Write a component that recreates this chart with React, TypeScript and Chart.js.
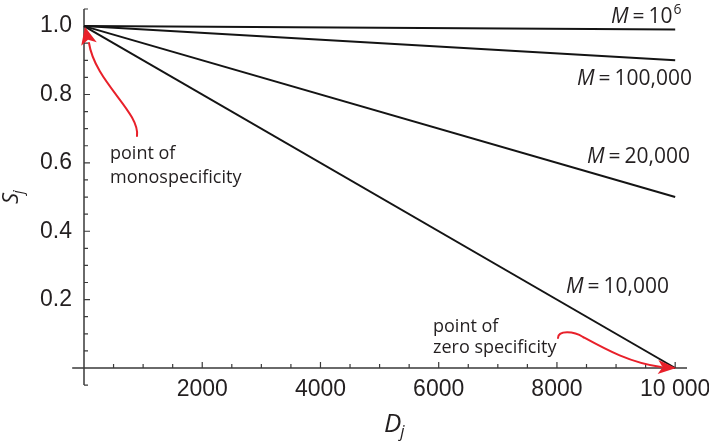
import React, { useEffect, useRef } from 'react';
import Chart from 'chart.js/auto';

// Specificity S_j against D_j for four values of M
const dValues = [0, 10000];
const sM1e6 = [1, 0.99];
const sM100k = [1, 0.9];
const sM20k = [1, 0.5];
const sM10k = [1, 0];

const curveLabels = ['10', '100,000', '20,000', '10,000'];

const xTickValues = [2000, 4000, 6000, 8000, 10000];
const xTickLabels = ['2000', '4000', '6000', '8000', '10 000'];
const yTickValues = [0.2, 0.4, 0.6, 0.8, 1.0];
const yTickLabels = ['0.2', '0.4', '0.6', '0.8', '1.0'];

const X_MIN = -200;
const X_MAX = 10200;
const Y_MIN = -0.05;
const Y_MAX = 1.05;

const AXIS_COLOR = '#3a3a3a';
const TEXT_COLOR = '#231f20';
const ARROW_RED = '#e8202a';
const ANNOT_FONT = '"Open Sans", "DejaVu Sans", sans-serif';
const TICK_FONT = '"Liberation Sans", Arial, sans-serif';

const toPoints = (ys: number[]) => dValues.map((d, i) => ({ x: d, y: ys[i] }));

function drawArrowHead(ctx: CanvasRenderingContext2D, bx: number, by: number, tx: number, ty: number, half: number) {
  const dx = tx - bx;
  const dy = ty - by;
  const len = Math.hypot(dx, dy);
  const ux = dx / len;
  const uy = dy / len;
  const px = -uy;
  const py = ux;
  ctx.beginPath();
  ctx.moveTo(tx, ty);
  ctx.lineTo(bx + px * half, by + py * half);
  ctx.lineTo(bx + ux * len * 0.25, by + uy * len * 0.25);
  ctx.lineTo(bx - px * half, by - py * half);
  ctx.closePath();
  ctx.fill();
}

const axesPlugin = {
  id: 'crossedAxes',
  beforeDatasetsDraw(chart: any) {
    const { ctx, scales } = chart;
    const xs = scales.x;
    const ys = scales.y;
    const x0 = xs.getPixelForValue(0);
    const y0 = ys.getPixelForValue(0);
    ctx.save();
    ctx.strokeStyle = AXIS_COLOR;
    ctx.lineWidth = 1.5;
    ctx.beginPath();
    ctx.moveTo(xs.getPixelForValue(X_MIN), y0);
    ctx.lineTo(xs.getPixelForValue(X_MAX), y0);
    ctx.moveTo(x0, ys.getPixelForValue(Y_MIN));
    ctx.lineTo(x0, ys.getPixelForValue(Y_MAX));
    ctx.stroke();

    ctx.lineWidth = 1.2;
    ctx.beginPath();
    // x ticks every 500, longer on the labelled ones
    for (let k = 1; k <= 20; k++) {
      const v = k * 500;
      const px = xs.getPixelForValue(v);
      const len = k % 4 === 0 ? 6 : 4;
      ctx.moveTo(px, y0);
      ctx.lineTo(px, y0 - len);
    }
    // y ticks every 0.05
    for (let k = -1; k <= 21; k++) {
      if (k === 0) continue;
      const py = ys.getPixelForValue(k * 0.05);
      const len = k % 4 === 0 ? 6 : 4;
      ctx.moveTo(x0, py);
      ctx.lineTo(x0 + len, py);
    }
    ctx.stroke();
    ctx.restore();
  },
};

const annotationPlugin = {
  id: 'annotations',
  afterDatasetsDraw(chart: any) {
    const { ctx, scales } = chart;
    const xs = scales.x;
    const ys = scales.y;
    ctx.save();
    ctx.fillStyle = TEXT_COLOR;
    ctx.textBaseline = 'alphabetic';
    ctx.textAlign = 'left';

    const drawM = (x: number, y: number, rest: string, sup?: string) => {
      ctx.font = `italic 21px ${ANNOT_FONT}`;
      ctx.fillText('M', x, y);
      let cx = x + ctx.measureText('M').width + 4;
      ctx.font = `21px ${ANNOT_FONT}`;
      ctx.fillText('=', cx, y);
      cx += ctx.measureText('=').width + 4;
      ctx.fillText(rest, cx, y);
      cx += ctx.measureText(rest).width + 1;
      if (sup) {
        ctx.font = `14px ${ANNOT_FONT}`;
        ctx.fillText(sup, cx, y - 9);
      }
    };

    drawM(611, 23, curveLabels[0], '6');
    drawM(577, 85, curveLabels[1]);
    drawM(587, 163, curveLabels[2]);
    drawM(566, 293, curveLabels[3]);

    ctx.font = `18px ${ANNOT_FONT}`;
    ctx.fillText('point of', 110, 159);
    ctx.fillText('monospecificity', 110, 183);
    ctx.fillText('point of', 433, 332);
    ctx.fillText('zero specificity', 433, 353);

    // axis titles
    ctx.font = `italic 22px ${ANNOT_FONT}`;
    ctx.save();
    ctx.translate(18, 204);
    ctx.rotate(-Math.PI / 2);
    ctx.fillText('S', 0, 0);
    const sw = ctx.measureText('S').width;
    ctx.font = `italic 15px ${ANNOT_FONT}`;
    ctx.fillText('j', sw - 1, 5);
    ctx.restore();

    ctx.font = `italic 26px ${ANNOT_FONT}`;
    ctx.fillText('D', 384, 432);
    const dw = ctx.measureText('D').width;
    ctx.font = `italic 17px ${ANNOT_FONT}`;
    ctx.fillText('j', 384 + dw - 1, 437);

    // red arrows to the two special points
    const tip1x = xs.getPixelForValue(0) + 1;
    const tip1y = ys.getPixelForValue(1) + 1;
    const tip2x = xs.getPixelForValue(10000) + 1;
    const tip2y = ys.getPixelForValue(0);

    ctx.strokeStyle = ARROW_RED;
    ctx.fillStyle = ARROW_RED;
    ctx.lineWidth = 2;
    ctx.lineCap = 'round';

    ctx.beginPath();
    ctx.moveTo(137, 136);
    ctx.bezierCurveTo(140, 112, 95, 82, 89, 43);
    ctx.stroke();
    drawArrowHead(ctx, 89, 44, tip1x, tip1y, 8);

    ctx.beginPath();
    ctx.moveTo(558, 338);
    ctx.bezierCurveTo(558, 330, 574, 331, 583, 337);
    ctx.bezierCurveTo(605, 349, 630, 363, 661, 367);
    ctx.stroke();
    drawArrowHead(ctx, 658, 367, tip2x, tip2y, 7);

    ctx.restore();
  },
};

export default function App() {
  const canvasRef = useRef<HTMLCanvasElement | null>(null);

  useEffect(() => {
    const canvas = canvasRef.current;
    if (!canvas) return;
    const lineStyle = {
      borderColor: '#141414',
      borderWidth: 2,
      pointRadius: 0,
      fill: false,
      tension: 0,
      clip: false as any,
    };
    const chart = new Chart(canvas, {
      type: 'line',
      data: {
        datasets: [
          { label: 'M = 10^6', data: toPoints(sM1e6), ...lineStyle },
          { label: 'M = 100,000', data: toPoints(sM100k), ...lineStyle },
          { label: 'M = 20,000', data: toPoints(sM20k), ...lineStyle },
          { label: 'M = 10,000', data: toPoints(sM10k), ...lineStyle },
        ],
      },
      options: {
        responsive: false,
        animation: false,
        events: [],
        layout: { padding: { left: 8, top: 9, right: 22, bottom: 0 } },
        plugins: {
          legend: { display: false },
          tooltip: { enabled: false },
        },
        scales: {
          x: {
            type: 'linear',
            position: 'bottom',
            min: 0,
            max: X_MAX,
            grid: { display: false, drawTicks: false },
            border: { display: false },
            afterBuildTicks: (s: any) => {
              s.ticks = xTickValues.map((v) => ({ value: v }));
            },
            afterFit: (s: any) => {
              s.height = 75;
              s.paddingLeft = 0;
              s.paddingRight = 0;
            },
            ticks: {
              autoSkip: false,
              maxRotation: 0,
              padding: 8,
              color: TEXT_COLOR,
              font: { family: TICK_FONT, size: 23 },
              callback: (v: any) => xTickLabels[xTickValues.indexOf(Number(v))] ?? '',
            },
          },
          y: {
            type: 'linear',
            position: 'left',
            min: 0,
            max: Y_MAX,
            grid: { display: false, drawTicks: false },
            border: { display: false },
            afterBuildTicks: (s: any) => {
              s.ticks = yTickValues.map((v) => ({ value: v }));
            },
            afterFit: (s: any) => {
              s.width = 76;
              s.paddingTop = 0;
              s.paddingBottom = 0;
            },
            ticks: {
              autoSkip: false,
              padding: 12,
              color: TEXT_COLOR,
              font: { family: TICK_FONT, size: 23 },
              callback: (v: any) => {
                const i = yTickValues.findIndex((t) => Math.abs(t - Number(v)) < 1e-9);
                return i >= 0 ? yTickLabels[i] : '';
              },
            },
          },
        },
      },
      plugins: [axesPlugin, annotationPlugin],
    });
    return () => chart.destroy();
  }, []);

  return (
    <div style={{ position: 'fixed', left: 0, top: 0, width: 709, height: 443, background: '#fff' }}>
      <canvas ref={canvasRef} width={709} height={443} style={{ display: 'block' }} />
    </div>
  );
}
